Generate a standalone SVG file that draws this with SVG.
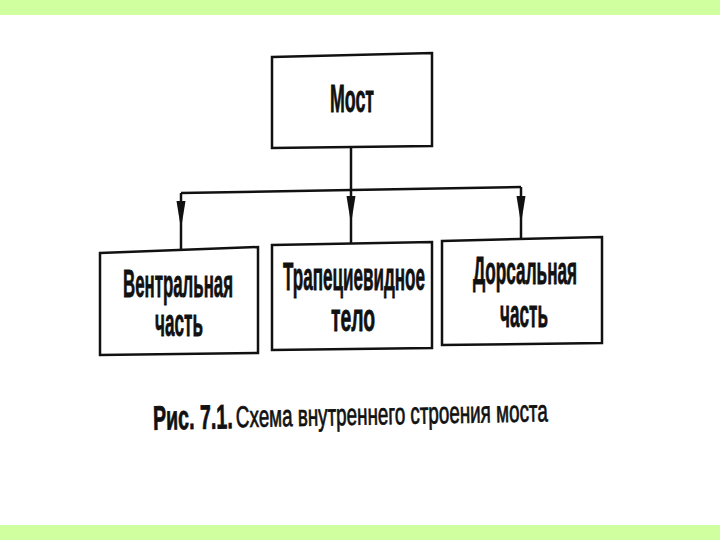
<svg xmlns="http://www.w3.org/2000/svg" width="720" height="540" viewBox="0 0 720 540">
<style>
.box{fill:#fff;stroke:#111;stroke-width:2.5}
.lbl{font-family:"Liberation Sans","DejaVu Sans",sans-serif;font-size:39px;font-weight:bold;fill:#111;stroke:#111;stroke-width:0.8;text-anchor:middle}
.con{fill:none;stroke:#111;stroke-width:2.5}
.cap{font-family:"Liberation Sans","DejaVu Sans",sans-serif;fill:#111}
</style>
<defs>
<marker id="ah" viewBox="0 0 28 10" refX="14" refY="5" markerWidth="28" markerHeight="10" markerUnits="userSpaceOnUse" orient="auto">
<path d="M0,0.5 L28,5 L0,9.5 Z" fill="#111"/>
</marker>
</defs>
<rect x="0" y="0" width="720" height="15" fill="#d0ffa0"/>
<rect x="0" y="525" width="720" height="15" fill="#d0ffa0"/>
<g id="connectors">
<path class="con" d="M351,147 V190"/>
<path class="con" d="M181,193 L351,190 L521,187"/>
<path class="con" d="M181,193 L181,215 L181,250" marker-mid="url(#ah)"/>
<path class="con" d="M351,190 L351,210 L351,243" marker-mid="url(#ah)"/>
<path class="con" d="M521,187 L521,210 L521,238" marker-mid="url(#ah)"/>
</g>
<g id="most">
<path class="box" d="M272,57 L432,53 L432,146 L272,148 Z"/>
<text class="lbl" transform="translate(352,112) scale(0.42,1)" font-size="41" textLength="105" lengthAdjust="spacingAndGlyphs">Мост</text>
</g>
<g id="ventral">
<path class="box" d="M100,253 L258,247 L258,353 L100,355 Z"/>
<text class="lbl" transform="translate(178,297) scale(0.42,1)" textLength="262" lengthAdjust="spacingAndGlyphs">Вентральная</text>
<text class="lbl" transform="translate(179,336) scale(0.42,1)" textLength="114" lengthAdjust="spacingAndGlyphs">часть</text>
</g>
<g id="trapez">
<path class="box" d="M272,245 L432,242 L432,348 L272,350 Z"/>
<text class="lbl" transform="translate(354,290) scale(0.42,1)" textLength="338" lengthAdjust="spacingAndGlyphs">Трапециевидное</text>
<text class="lbl" transform="translate(353,331) scale(0.42,1)" textLength="105" lengthAdjust="spacingAndGlyphs">тело</text>
</g>
<g id="dorsal">
<path class="box" d="M442,241 L602,237 L602,343 L442,345 Z"/>
<text class="lbl" transform="translate(525,284) scale(0.42,1)" textLength="248" lengthAdjust="spacingAndGlyphs">Дорсальная</text>
<text class="lbl" transform="translate(524,327) scale(0.42,1)" textLength="114" lengthAdjust="spacingAndGlyphs">часть</text>
</g>
<g id="caption" transform="rotate(-1.1 350 420)">
<text class="cap" transform="translate(153,426) scale(0.55,1)" font-size="34" font-weight="bold" stroke="#111" stroke-width="0.8" textLength="145" lengthAdjust="spacingAndGlyphs">Рис. 7.1.</text>
<text class="cap" transform="translate(236,425) scale(0.62,1)" font-size="30" stroke="#111" stroke-width="0.8" textLength="503" lengthAdjust="spacingAndGlyphs">Схема внутреннего строения моста</text>
</g>
</svg>
